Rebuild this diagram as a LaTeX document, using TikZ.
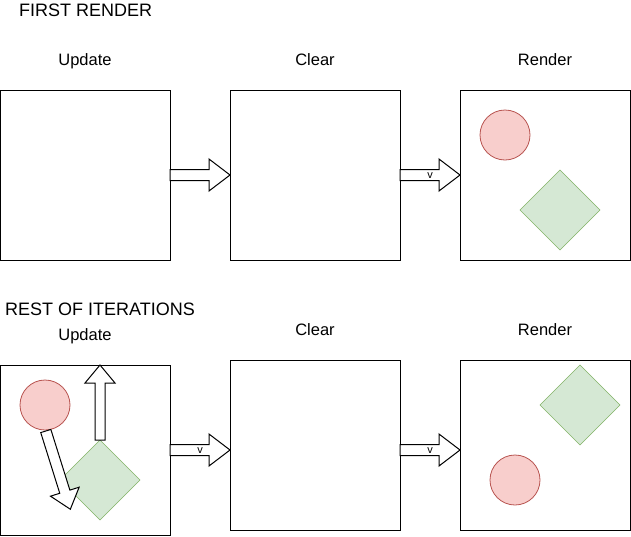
\documentclass[tikz,border=0pt]{standalone}
\usepackage{fontspec}
\setmainfont{Liberation Sans}
\definecolor{redfill}{HTML}{F8CECC}
\definecolor{redline}{HTML}{B85450}
\definecolor{greenfill}{HTML}{D5E8D4}
\definecolor{greenline}{HTML}{82B366}
\begin{document}
\begin{tikzpicture}[x=1pt,y=-1pt,
  box/.style={draw=black,line width=1pt,fill=white,minimum width=170pt,minimum height=170pt,inner sep=0pt,outer sep=0pt},
  lbl/.style={font=\fontsize{16.5}{19}\selectfont,inner sep=0pt,anchor=base},
  ttl/.style={font=\fontsize{18}{21}\selectfont,inner sep=0pt,anchor=base west},
  vlbl/.style={font=\fontsize{11}{12}\selectfont,inner sep=0pt},
  redcirc/.style={circle,draw=redline,fill=redfill,line width=0.8pt,minimum size=50pt,inner sep=0pt},
  greendiam/.style={draw=greenline,fill=greenfill,line width=0.6pt},
  arrowshape/.style={draw=black,fill=white,line width=1pt,line join=miter},
  pics/barrow/.style n args={4}{code={%
    \draw[arrowshape] (0,-#3) -- ({#1-#2},-#3) -- ({#1-#2},-#4) -- (#1,0) -- ({#1-#2},#4) -- ({#1-#2},#3) -- (0,#3) -- cycle;}}
]
\useasboundingbox (0,0) rectangle (631,536);

% titles
\node[ttl] (t1) at (19,16.7) {FIRST RENDER};
\node[ttl] (t2) at (5,315.7) {REST OF ITERATIONS};

% top row
\node[lbl] (l1) at (85,65.7) {Update};
\node[lbl] (l2) at (315,65.7) {Clear};
\node[lbl] (l3) at (545,65.7) {Render};
\node[box] (u1) at (85,175) {};
\node[box] (c1) at (315,175) {};
\node[box] (r1) at (545,175) {};

\pic at (u1.east) {barrow={60}{21}{5.5}{16}};
\pic at (c1.east) {barrow={60}{21}{5.5}{16}};
\node[vlbl] (v1) at (430,175.5) {v};

\node[redcirc] (rc1) at (505,135) {};
\draw[greendiam] (560,170) coordinate (d1t) -- (600,210) -- (560,250) -- (520,210) -- cycle;

% bottom row
\node[lbl] (l4) at (85,340.5) {Update};
\node[lbl] (l5) at (315,335.5) {Clear};
\node[lbl] (l6) at (545,335.5) {Render};
\node[box] (u2) at (85,450) {};
\node[box] (c2) at (315,445) {};
\node[box] (r2) at (545,445) {};

\pic at (170,450) {barrow={60}{21}{5.5}{16}};
\node[vlbl] (v2) at (200,450.5) {v};
\pic at (400,450) {barrow={60}{21}{5.5}{16}};
\node[vlbl] (v3) at (430,450.5) {v};

% update contents
\node[redcirc] (rc2) at (45,405) {};
\draw[greendiam] (100,440) -- (140,480) -- (100,520) -- (60,480) -- cycle;
\pic[rotate=90] at (100,440) {barrow={75}{18}{5}{15}};
\pic[rotate=-72.6] at (45.8,431) {barrow={82}{18.4}{5.3}{15}};

% render contents
\draw[greendiam] (580,365) -- (620,405) -- (580,445) -- (540,405) -- cycle;
\node[redcirc] (rc3) at (515,480) {};
\end{tikzpicture}
\end{document}
